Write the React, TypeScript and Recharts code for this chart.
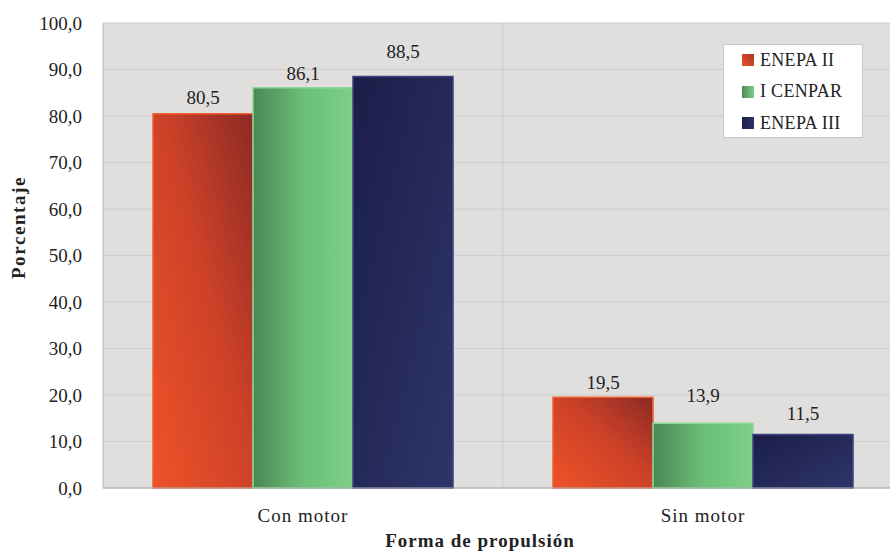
import React from "react";
import {
  BarChart,
  Bar,
  XAxis,
  YAxis,
  CartesianGrid,
  Legend,
  LabelList,
  Label,
} from "recharts";

const categories = ["Con motor", "Sin motor"];
const enepaII = [80.5, 19.5];
const icenpar = [86.1, 13.9];
const enepaIII = [88.5, 11.5];
const yTicks = [0, 10, 20, 30, 40, 50, 60, 70, 80, 90, 100];

const seriesNames = ["ENEPA II", "I CENPAR", "ENEPA III"];
const legendSwatches = [
  "linear-gradient(45deg,#ec5228,#a83426)",
  "linear-gradient(90deg,#4c8a58,#7dce88)",
  "linear-gradient(90deg,#1c1f4a,#2d3468)",
];

// distance of each value label above its bar (the original places them by hand)
const labelGaps: Record<string, number[]> = {
  enepaII: [10, 8],
  icenpar: [8, 21],
  enepaIII: [18, 15],
};

const data = categories.map((name, i) => ({
  name,
  enepaII: enepaII[i],
  icenpar: icenpar[i],
  enepaIII: enepaIII[i],
}));

const FONT = "'Liberation Serif', 'Times New Roman', serif";
const INK = "#222222";

const fmt = (v: number) => v.toFixed(1).replace(".", ",");

function valueLabel(key: string) {
  return (p: any) => {
    const gap = labelGaps[key][p.index] ?? 7;
    return (
      <text
        x={Number(p.x) + Number(p.width) / 2}
        y={Number(p.y) - gap}
        textAnchor="middle"
        fontFamily={FONT}
        fontSize={19}
        fill={INK}
      >
        {fmt(Number(p.value))}
      </text>
    );
  };
}

function LegendBox() {
  return (
    <div
      style={{
        width: 138,
        height: 92,
        background: "#ffffff",
        border: "1px solid #c8c8c8",
        position: "relative",
        fontFamily: FONT,
        fontSize: 18,
        color: INK,
      }}
    >
      {seriesNames.map((s, i) => (
        <div
          key={s}
          style={{
            position: "absolute",
            left: 18,
            top: 15 + i * 31.5 - 11,
            height: 22,
            display: "flex",
            alignItems: "center",
            whiteSpace: "nowrap",
            letterSpacing: 0.3,
          }}
        >
          <span
            style={{
              display: "inline-block",
              width: 12,
              height: 12,
              marginRight: 6,
              background: legendSwatches[i],
            }}
          />
          {s}
        </div>
      ))}
    </div>
  );
}

export default function App() {
  return (
    <div
      style={{
        position: "absolute",
        left: 0,
        top: 0,
        width: 890,
        height: 553,
        overflow: "hidden",
        background: "#ffffff",
      }}
    >
      <BarChart
        width={903}
        height={553}
        data={data}
        margin={{ top: 23, right: 0, bottom: 0, left: 0 }}
        barCategoryGap="12.5%"
        barGap={0}
      >
        <defs>
          <linearGradient id="gRed" x1="0" y1="1" x2="1" y2="0">
            <stop offset="0%" stopColor="#ee5328" />
            <stop offset="55%" stopColor="#cc4128" />
            <stop offset="100%" stopColor="#8c2a25" />
          </linearGradient>
          <linearGradient id="gGreen" x1="0" y1="0" x2="1" y2="0">
            <stop offset="0%" stopColor="#4b8757" />
            <stop offset="50%" stopColor="#6bbf77" />
            <stop offset="100%" stopColor="#7ecf89" />
          </linearGradient>
          <linearGradient id="gBlue" x1="0" y1="0" x2="1" y2="1">
            <stop offset="0%" stopColor="#1b1e48" />
            <stop offset="100%" stopColor="#2e3569" />
          </linearGradient>
        </defs>
        <CartesianGrid
          fill="#e1dfde"
          stroke="#cfcdcc"
          strokeWidth={1}
          verticalCoordinatesGenerator={(props: any) => [
            props.offset.left + props.offset.width / 2,
          ]}
        />
        <XAxis
          dataKey="name"
          height={65}
          tickSize={0}
          tickMargin={21}
          tickLine={false}
          axisLine={{ stroke: "#a9a9a9" }}
          tick={{ fill: INK, fontSize: 19, fontFamily: FONT, letterSpacing: 1 }}
        >
          <Label
            content={() => (
              <text
                x={480}
                y={547}
                textAnchor="middle"
                fontFamily={FONT}
                fontSize={19}
                fontWeight="bold"
                letterSpacing={1}
                fill={INK}
              >
                Forma de propulsión
              </text>
            )}
          />
        </XAxis>
        <YAxis
          width={103}
          domain={[0, 100]}
          ticks={yTicks}
          tickFormatter={fmt}
          tickSize={0}
          tickMargin={21}
          tickLine={false}
          axisLine={{ stroke: "#b9b9b9" }}
          tick={{ fill: INK, fontSize: 19, fontFamily: FONT }}
        >
          <Label
            content={(p: any) => {
              const cy = p.viewBox.y + p.viewBox.height / 2 - 28;
              return (
                <text
                  x={18}
                  y={cy}
                  transform={`rotate(-90 18 ${cy})`}
                  textAnchor="middle"
                  dominantBaseline="central"
                  fontFamily={FONT}
                  fontSize={19}
                  fontWeight="bold"
                  letterSpacing={1.6}
                  fill={INK}
                >
                  Porcentaje
                </text>
              );
            }}
          />
        </YAxis>
        <Legend
          layout="horizontal"
          verticalAlign="middle"
          align="center"
          wrapperStyle={{ position: "absolute", left: 723, top: 44, width: 140, height: 94 }}
          content={() => <LegendBox />}
        />
        <Bar
          dataKey="enepaII"
          name={seriesNames[0]}
          fill="url(#gRed)"
          stroke="#f0612f"
          strokeWidth={1.5}
          isAnimationActive={false}
        >
          <LabelList dataKey="enepaII" content={valueLabel("enepaII")} />
        </Bar>
        <Bar
          dataKey="icenpar"
          name={seriesNames[1]}
          fill="url(#gGreen)"
          stroke="#8ad995"
          strokeWidth={1.5}
          isAnimationActive={false}
        >
          <LabelList dataKey="icenpar" content={valueLabel("icenpar")} />
        </Bar>
        <Bar
          dataKey="enepaIII"
          name={seriesNames[2]}
          fill="url(#gBlue)"
          stroke="#3a4380"
          strokeWidth={1.5}
          isAnimationActive={false}
        >
          <LabelList dataKey="enepaIII" content={valueLabel("enepaIII")} />
        </Bar>
      </BarChart>
    </div>
  );
}
